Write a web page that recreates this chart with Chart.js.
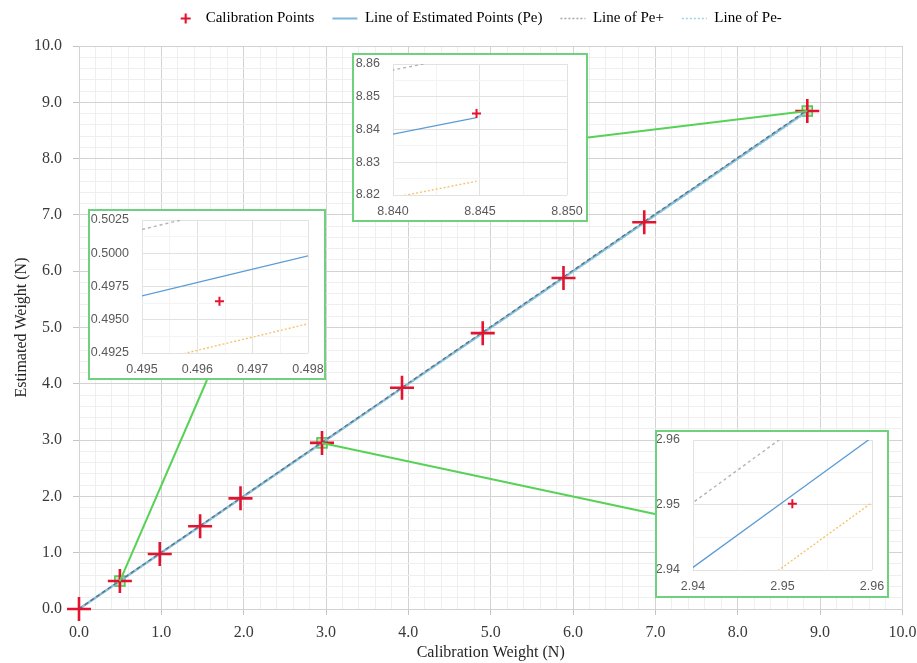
<!DOCTYPE html>
<html><head><meta charset="utf-8">
<script src="https://cdn.jsdelivr.net/npm/chart.js"></script>
<style>
html,body{margin:0;padding:0;background:#fff;}
#wrap{position:relative;width:917px;height:663px;overflow:hidden;background:#fff;}
#main{position:absolute;left:0;top:0;}
.inset{position:absolute;box-sizing:border-box;border:2px solid #6fd07d;background:#fff;}
.inset canvas{position:absolute;left:0;top:0;}
</style></head><body>
<div id="wrap">
<canvas id="main" width="917" height="663"></canvas>
<div class="inset" id="boxA"><canvas id="insA"></canvas></div>
<div class="inset" id="boxB"><canvas id="insB"></canvas></div>
<div class="inset" id="boxC"><canvas id="insC"></canvas></div>
</div>
<script>
// ---- data ----
const calX    = [0.0000, 0.4964, 0.9807, 1.4710, 1.9613, 2.9511, 3.9227, 4.9033, 5.8840, 6.8647, 8.8448];
const calY    = [0.0000, 0.4964, 0.9760, 1.4690, 1.9650, 2.9502, 3.9300, 4.9000, 5.8800, 6.8700, 8.8449];
const peY     = [0.0000, 0.4982, 0.9815, 1.4718, 1.9620, 2.9515, 3.9232, 4.9036, 5.8840, 6.8645, 8.8436];
const pePlus  = [0.0030, 0.5032, 0.9875, 1.4786, 1.9695, 2.9615, 3.9352, 4.9176, 5.8996, 6.8815, 8.8632];
const peMinus = [-0.0030, 0.4931, 0.9755, 1.4650, 1.9545, 2.9415, 3.9112, 4.8896, 5.8684, 6.8475, 8.8242];

const seriesNames = ['Calibration Points', 'Line of Estimated Points (Pe)', 'Line of Pe+', 'Line of Pe-'];
const axisTitles  = ['Calibration Weight (N)', 'Estimated Weight (N)'];

// main axis range / steps
const mainRange = [0, 10];
const mainMajor = 1;
const mainMinor = 0.2;

// inset tick labels
const insetA_x = ['8.840', '8.845', '8.850'];
const insetA_y = ['8.82', '8.83', '8.84', '8.85', '8.86'];
const insetB_x = ['0.495', '0.496', '0.497', '0.498'];
const insetB_y = ['0.4925', '0.4950', '0.4975', '0.5000', '0.5025'];
const insetC_x = ['2.94', '2.95', '2.96'];
const insetC_y = ['2.94', '2.95', '2.96'];
// calibration point that each inset magnifies
const insetFocus = [10, 1, 5];

// ---- layout (page pixels) ----
const insetLayout = [
  {canvas:'insA', box:'boxA', b:{l:352,t:53,w:236,h:169}, p:{l:393,t:64,r:567,b:195}, side:'right'},
  {canvas:'insB', box:'boxB', b:{l:88,t:209,w:238,h:171}, p:{l:142,t:220,r:308,b:353}, side:'bottom'},
  {canvas:'insC', box:'boxC', b:{l:655,t:430,w:234,h:168}, p:{l:693,t:440,r:872,b:570}, side:'left'}
];

const RED = '#e3122f';
const serif = "'Liberation Serif','Times New Roman',serif";
const sans = "'Liberation Sans','Open Sans',sans-serif";
const pts = (xs, ys) => xs.map((x, i) => ({x: x, y: ys[i]}));
const isMul = (v, step) => { const r = v / step; return Math.abs(r - Math.round(r)) < 1e-3; };

// legend cross icon
const crossImg = document.createElement('canvas');
crossImg.width = 14; crossImg.height = 14;
(function(){ const c = crossImg.getContext('2d'); c.strokeStyle = RED; c.lineWidth = 2.2;
  c.beginPath(); c.moveTo(7,2); c.lineTo(7,12); c.moveTo(2,7); c.lineTo(12,7); c.stroke(); })();

const legendAdjust = {
  id: 'legendAdjust',
  beforeInit(chart) {
    const lg = chart.legend;
    if (lg && !lg._patched) {
      const fit = lg.fit;
      lg.fit = function() { fit.call(this); this.height = 46; };
      lg._patched = true;
    }
  },
  afterLayout(chart) {
    const lg = chart.legend;
    if (lg) { lg.left += 26; lg.right += 26; lg.top -= 7; lg.bottom -= 7; }
  }
};

const zoomMarks = {
  id: 'zoomMarks',
  beforeDatasetsDraw(chart) {
    const {ctx, scales: {x, y}} = chart;
    ctx.save();
    insetFocus.forEach(i => {
      const px = x.getPixelForValue(calX[i]), py = y.getPixelForValue(calY[i]);
      ctx.fillStyle = 'rgba(140,210,120,0.45)';
      ctx.strokeStyle = '#4fc24f';
      ctx.lineWidth = 1.5;
      ctx.fillRect(px - 5, py - 5, 10, 10);
      ctx.strokeRect(px - 5, py - 5, 10, 10);
    });
    ctx.restore();
  },
  afterDatasetsDraw(chart) {
    const {ctx, scales: {x, y}} = chart;
    ctx.save();
    ctx.strokeStyle = '#57d257';
    ctx.lineWidth = 2;
    insetLayout.forEach((L, k) => {
      const i = insetFocus[k];
      const px = x.getPixelForValue(calX[i]), py = y.getPixelForValue(calY[i]);
      let ex, ey;
      if (L.side === 'right') { ex = L.b.l + L.b.w; ey = L.b.t + L.b.h / 2; }
      else if (L.side === 'left') { ex = L.b.l; ey = L.b.t + L.b.h / 2; }
      else { ex = L.b.l + L.b.w / 2; ey = L.b.t + L.b.h; }
      ctx.beginPath(); ctx.moveTo(px, py); ctx.lineTo(ex, ey); ctx.stroke();
    });
    ctx.restore();
  }
};

new Chart(document.getElementById('main'), {
  type: 'scatter',
  data: { datasets: [
    {label: seriesNames[0], data: pts(calX, calY), showLine: false, pointStyle: 'cross', pointRadius: 12, pointHoverRadius: 12,
     pointBorderWidth: 2.6, borderColor: RED, backgroundColor: RED, order: 0, clip: false},
    {label: seriesNames[1], data: pts(calX, peY), showLine: true, pointRadius: 0, borderColor: '#80b7de', borderWidth: 2.4, order: 3},
    {label: seriesNames[2], data: pts(calX, pePlus), showLine: true, pointRadius: 0, borderColor: '#5f7383', borderWidth: 1.4, borderDash: [4, 3], order: 1},
    {label: seriesNames[3], data: pts(calX, peMinus), showLine: true, pointRadius: 0, borderColor: '#8fd3d6', borderWidth: 1.4, borderDash: [2, 2], order: 2}
  ]},
  options: {
    responsive: false, animation: false,
    layout: {padding: {left: 0, right: 14, top: 0, bottom: 0}},
    plugins: {
      tooltip: {enabled: false},
      legend: {
        position: 'top',
        labels: {
          usePointStyle: true, pointStyleWidth: 25, padding: 18,
          font: {family: serif, size: 15}, color: '#262626',
          generateLabels: () => [
            {text: seriesNames[0], pointStyle: crossImg, fillStyle: RED, strokeStyle: RED, lineWidth: 0, datasetIndex: 0, hidden: false},
            {text: seriesNames[1], pointStyle: 'line', fillStyle: '#80b7de', strokeStyle: '#80b7de', lineWidth: 2, lineDash: [], datasetIndex: 1, hidden: false},
            {text: seriesNames[2], pointStyle: 'line', fillStyle: '#a6a6a6', strokeStyle: '#a6a6a6', lineWidth: 1.5, lineDash: [2, 2], datasetIndex: 2, hidden: false},
            {text: seriesNames[3], pointStyle: 'line', fillStyle: '#9fd6dc', strokeStyle: '#9fd6dc', lineWidth: 1.5, lineDash: [2, 2], datasetIndex: 3, hidden: false}
          ]
        }
      }
    },
    scales: {
      x: {
        type: 'linear', min: mainRange[0], max: mainRange[1],
        ticks: {stepSize: mainMinor, maxTicksLimit: 1000, autoSkip: false, maxRotation: 0, padding: 8,
          callback: v => isMul(v, mainMajor) ? v.toFixed(1) : '',
          font: {family: serif, size: 16}, color: '#3a3a3a'},
        grid: {color: c => (c.tick && isMul(c.tick.value, mainMajor)) ? '#d3d3d3' : '#efefef',
               tickColor: c => (c.tick && isMul(c.tick.value, mainMajor)) ? '#c4c4c4' : 'rgba(0,0,0,0)', tickLength: 6},
        border: {color: '#d3d3d3'},
        title: {display: true, text: axisTitles[0], font: {family: serif, size: 16}, color: '#262626', padding: {top: 0, bottom: 1}},
        afterFit: s => { s.height = 54; s.paddingLeft = 0; s.paddingRight = 0; }
      },
      y: {
        type: 'linear', min: mainRange[0], max: mainRange[1],
        ticks: {stepSize: mainMinor, maxTicksLimit: 1000, autoSkip: false, padding: 11,
          callback: v => isMul(v, mainMajor) ? v.toFixed(1) : '',
          font: {family: serif, size: 16}, color: '#3a3a3a'},
        grid: {color: c => (c.tick && isMul(c.tick.value, mainMajor)) ? '#d3d3d3' : '#efefef',
               tickColor: c => (c.tick && isMul(c.tick.value, mainMajor)) ? '#c4c4c4' : 'rgba(0,0,0,0)', tickLength: 6},
        border: {color: '#d3d3d3'},
        title: {display: true, text: axisTitles[1], font: {family: serif, size: 16}, color: '#262626', padding: {top: 12, bottom: 0}},
        afterFit: s => { s.width = 79; s.paddingTop = 0; s.paddingBottom = 0; }
      }
    }
  },
  plugins: [legendAdjust, zoomMarks]
});

function makeInset(L, xl, yl) {
  const box = document.getElementById(L.box);
  box.style.left = L.b.l + 'px'; box.style.top = L.b.t + 'px';
  box.style.width = L.b.w + 'px'; box.style.height = L.b.h + 'px';
  const cv = document.getElementById(L.canvas);
  const iw = L.b.w - 4, ih = L.b.h - 4, ox = L.b.l + 2, oy = L.b.t + 2;
  cv.width = iw; cv.height = ih;
  const xv = xl.map(Number), yv = yl.map(Number);
  const xd = xl[0].split('.')[1].length, yd = yl[0].split('.')[1].length;
  const xs = xv[1] - xv[0], ys = yv[1] - yv[0];
  const gridCol = (c, base, step) => (c.tick && isMul(c.tick.value - base, step)) ? '#e2e2e2' : '#f3f3f3';
  new Chart(cv, {
    type: 'scatter',
    data: { datasets: [
      {data: pts(calX, calY), showLine: false, pointStyle: 'cross', pointRadius: 4.5, pointBorderWidth: 2, borderColor: RED, backgroundColor: RED, order: 0},
      {data: pts(calX, peY), showLine: true, pointRadius: 0, borderColor: '#5b9bd5', borderWidth: 1.3, order: 3},
      {data: pts(calX, pePlus), showLine: true, pointRadius: 0, borderColor: '#b3b3b3', borderWidth: 1.4, borderDash: [3, 3], order: 1},
      {data: pts(calX, peMinus), showLine: true, pointRadius: 0, borderColor: '#f6c46e', borderWidth: 1.4, borderDash: [2, 2], order: 2}
    ]},
    options: {
      responsive: false, animation: false,
      layout: {padding: {left: 0, bottom: 0, top: L.p.t - oy, right: ox + iw - L.p.r}},
      plugins: {legend: {display: false}, tooltip: {enabled: false}},
      scales: {
        x: {type: 'linear', min: xv[0], max: xv[xv.length - 1],
          ticks: {stepSize: xs / 2, autoSkip: false, maxRotation: 0, padding: 9, maxTicksLimit: 1000,
            callback: v => isMul(v - xv[0], xs) ? v.toFixed(xd) : '',
            font: {family: sans, size: 12.5}, color: '#595959'},
          grid: {color: c => gridCol(c, xv[0], xs), drawTicks: false},
          border: {display: false},
          afterFit: s => { s.height = oy + ih - L.p.b; s.paddingLeft = 0; s.paddingRight = 0; }
        },
        y: {type: 'linear', min: yv[0], max: yv[yv.length - 1],
          ticks: {stepSize: ys / 2, autoSkip: false, padding: 13, maxTicksLimit: 1000,
            callback: v => isMul(v - yv[0], ys) ? v.toFixed(yd) : '',
            font: {family: sans, size: 12.5}, color: '#595959'},
          grid: {color: c => gridCol(c, yv[0], ys), drawTicks: false},
          border: {display: false},
          afterFit: s => { s.width = L.p.l - ox; s.paddingTop = 0; s.paddingBottom = 0; }
        }
      }
    }
  });
}
makeInset(insetLayout[0], insetA_x, insetA_y);
makeInset(insetLayout[1], insetB_x, insetB_y);
makeInset(insetLayout[2], insetC_x, insetC_y);
</script>
</body></html>
